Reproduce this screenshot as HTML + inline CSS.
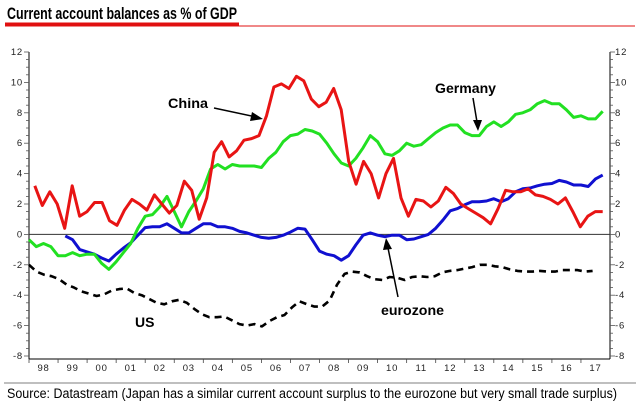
<!DOCTYPE html>
<html><head><meta charset="utf-8"><style>
html,body{margin:0;padding:0;background:#fff;}
svg{display:block;font-family:"Liberation Sans",Arial,sans-serif;}
</style></head><body>
<svg id="chart" width="640" height="411" viewBox="0 0 640 411" xmlns="http://www.w3.org/2000/svg">
<text x="7" y="19" font-size="17" font-weight="bold" textLength="230" lengthAdjust="spacingAndGlyphs">Current account balances as % of GDP</text>
<rect x="5" y="22.5" width="234" height="4" fill="#e01010"/>
<rect x="239" y="25.5" width="396" height="1" fill="#e01010"/>
<line x1="4" y1="383" x2="636" y2="383" stroke="#999" stroke-width="1.2"/>
<text x="7" y="398" font-size="13.5" textLength="610" lengthAdjust="spacingAndGlyphs">Source: Datastream (Japan has a similar current account surplus to the eurozone but very small trade surplus)</text>
<g id="axes"></g>
<g id="series"></g>
<g id="annot">
<text x="168" y="108" font-size="14" font-weight="bold" textLength="40" lengthAdjust="spacingAndGlyphs">China</text>
<line x1="214" y1="108" x2="256" y2="117" stroke="#000" stroke-width="1.5"/>
<polygon points="263,119 252,112 250,121" fill="#000"/>
<text x="435" y="93" font-size="14" font-weight="bold" textLength="61" lengthAdjust="spacingAndGlyphs">Germany</text>
<line x1="473" y1="98" x2="477" y2="122" stroke="#000" stroke-width="1.5"/>
<polygon points="478,131 473,120 482,120" fill="#000"/>
<text x="381" y="315" font-size="14" font-weight="bold" textLength="63" lengthAdjust="spacingAndGlyphs">eurozone</text>
<line x1="398" y1="297" x2="388" y2="248" stroke="#000" stroke-width="1.5"/>
<polygon points="386,238 383,250 392,249" fill="#000"/>
<text x="135" y="327" font-size="14" font-weight="bold">US</text>
</g>
</svg>
<script>
const yTicks = [12,10,8,6,4,2,0,-2,-4,-6,-8];
const yearLabels = ["98","99","00","01","02","03","04","05","06","07","08","09","10","11","12","13","14","15","16","17"];
const chinaStart = 1998.2, chinaEnd = 2017.75;
const chinaValues = [3.2,1.9,2.8,2.0,0.4,3.2,1.2,1.5,2.1,2.1,0.9,0.6,1.6,2.3,2.0,1.6,2.6,2.0,1.4,1.9,3.5,2.9,1.0,2.4,5.4,6.1,5.1,5.5,6.2,6.3,6.5,7.8,9.7,9.9,9.6,10.4,10.1,8.9,
 8.4,8.7,9.6,8.2,4.8,3.3,4.8,4.0,2.4,4.0,5.0,2.4,1.2,2.3,2.2,1.8,2.2,3.1,2.7,2.0,1.7,1.4,1.1,0.7,1.7,2.9,2.8,2.8,3.0,2.6,2.5,2.3,2.0,2.4,1.5,0.5,1.2,1.5,1.5];
const germanyStart = 1998.0, germanyEnd = 2017.75;
const germanyValues = [-0.35,-0.8,-0.6,-0.8,-1.4,-1.4,-1.2,-1.4,-1.3,-1.3,-1.9,-2.3,-1.8,-1.2,-0.6,0.4,1.2,1.3,1.8,2.5,1.5,0.5,1.5,2.2,3.0,4.3,4.6,4.3,4.6,4.5,4.5,4.5,4.4,5.0,5.4,6.1,6.5,6.6,6.9,6.8,6.6,
 6.0,5.3,4.7,4.5,5.0,5.7,6.5,6.1,5.3,5.2,5.5,6.0,5.8,5.9,6.3,6.7,7.0,7.2,7.2,6.7,6.5,6.5,7.1,7.4,7.1,7.4,7.9,8.0,8.2,8.6,8.8,8.6,8.6,8.2,7.7,7.8,7.6,7.6,8.1];
const eurozoneStart = 1999.25, eurozoneEnd = 2017.75;
const eurozoneValues = [-0.1,-0.35,-1.0,-1.15,-1.3,-1.55,-1.75,-1.3,-0.9,-0.55,-0.05,0.45,0.5,0.5,0.7,0.4,0.1,0.1,0.4,0.7,0.7,0.5,0.5,0.4,0.2,0.1,-0.05,-0.2,-0.25,-0.2,-0.05,0.15,0.4,0.35,-0.35,-1.1,
 -1.3,-1.4,-1.7,-1.4,-0.7,-0.05,0.1,-0.05,-0.15,-0.05,-0.05,-0.35,-0.3,-0.15,0.0,0.4,0.95,1.55,1.7,1.95,2.15,2.15,2.2,2.35,2.15,2.35,2.8,3.0,3.05,3.2,3.3,3.35,3.55,3.45,3.25,3.25,3.15,3.65,3.9];
const usStart = 1998.0, usEnd = 2017.4;
const usValues = [-2.0,-2.45,-2.65,-2.75,-2.95,-3.3,-3.5,-3.75,-3.9,-4.05,-3.95,-3.7,-3.6,-3.55,-3.85,-4.0,-4.25,-4.5,-4.6,-4.4,-4.3,-4.5,-4.9,-5.25,-5.45,-5.45,-5.4,-5.65,-5.9,-6.0,-5.9,-6.05,-5.7,-5.45,-5.3,-4.8,-4.4,-4.6,
 -4.75,-4.75,-4.35,-3.3,-2.6,-2.45,-2.5,-2.75,-2.95,-3.0,-2.8,-2.85,-3.0,-2.8,-2.75,-2.8,-2.75,-2.5,-2.4,-2.35,-2.25,-2.15,-2.0,-2.0,-2.1,-2.15,-2.3,-2.4,-2.45,-2.45,-2.4,-2.45,-2.45,-2.35,-2.35,-2.35,-2.45,-2.4];

const NS="http://www.w3.org/2000/svg";
const L=29, R=610, T=52, B=356, AX=359;
const yMin=-8, yMax=12, x0=1998, x1=2018;
function xS(t){return L+(t-x0)/(x1-x0)*(R-L);}
function yS(v){return B-(v-yMin)/(yMax-yMin)*(B-T);}
function mk(tag,attrs,parent){const e=document.createElementNS(NS,tag);for(const k in attrs)e.setAttribute(k,attrs[k]);parent.appendChild(e);return e;}
const axes=document.getElementById('axes');
const ser=document.getElementById('series');

let a=mk('line',{x1:L,y1:T,x2:L,y2:AX,stroke:'#000','stroke-width':1},axes);


a=mk('line',{x1:R,y1:T,x2:R,y2:AX,stroke:'#000','stroke-width':1},axes);


a=mk('line',{x1:L,y1:AX,x2:R,y2:AX,stroke:'#000','stroke-width':1},axes);


a=mk('line',{x1:L,y1:yS(0),x2:R,y2:yS(0),stroke:'#333','stroke-width':1},axes);


for(let v=yMin; v<=yMax; v+=0.5){
  const major = Number.isInteger(v/2);
  const len = major?5:3;
  mk('line',{x1:L-len,y1:yS(v),x2:L,y2:yS(v),stroke:'#555','stroke-width':0.8},axes);
  mk('line',{x1:R,y1:yS(v),x2:R+len,y2:yS(v),stroke:'#555','stroke-width':0.8},axes);
}
yTicks.forEach(v=>{
  let t=mk('text',{x:L-6,y:yS(v)+3,'font-size':9.5,'text-anchor':'end','letter-spacing':'0.8',fill:'#222'},axes);
  t.textContent=v;
  
  
  t=mk('text',{x:R+5,y:yS(v)+3,'font-size':9.5,'text-anchor':'start','letter-spacing':'0.8',fill:'#222'},axes);
  t.textContent=v;
  
  
});
yearLabels.forEach((lab,i)=>{
  mk('line',{x1:xS(x0+i),y1:AX,x2:xS(x0+i),y2:AX+4,stroke:'#444','stroke-width':0.8},axes);
  const t=mk('text',{x:xS(x0+i+0.5),y:AX+12,'font-size':9.5,'text-anchor':'middle','letter-spacing':'0.8',fill:'#222'},axes);
  t.textContent=lab;
  
  
});
function draw(vals,s,e,color,name,dash){
  const step=(e-s)/(vals.length-1);
  const d=vals.map((v,i)=>(i?'L':'M')+xS(s+i*step).toFixed(1)+','+yS(v).toFixed(1)).join(' ');
  const p=mk('path',{d:d,fill:'none',stroke:color,'stroke-width':dash?2.6:3,'stroke-linejoin':'round'},ser);
  if(dash)p.setAttribute('stroke-dasharray','7,5');
  
  
}
draw(usValues,usStart,usEnd,'#000','us-line',true);
draw(eurozoneValues,eurozoneStart,eurozoneEnd,'#1010d0','eurozone-line',false);
draw(germanyValues,germanyStart,germanyEnd,'#22e022','germany-line',false);
draw(chinaValues,chinaStart,chinaEnd,'#e81414','china-line',false);
</script>
</body></html>
